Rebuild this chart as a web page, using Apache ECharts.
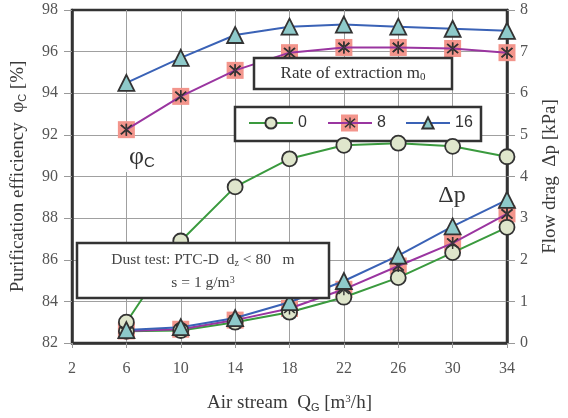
<!DOCTYPE html>
<html><head><meta charset="utf-8">
<script src="https://cdn.jsdelivr.net/npm/echarts@6/dist/echarts.min.js"></script>
<style>html,body{margin:0;padding:0;background:#fff}#c{width:568px;height:418px}</style>
</head><body><div id="c"></div>
<script>
// ---- data ----
const airStream = [6, 10, 14, 18, 22, 26, 30, 34];
const phi0  = [83.0, 86.9, 89.5, 90.85, 91.5, 91.6, 91.45, 90.95];
const phi8  = [92.25, 93.85, 95.1, 95.95, 96.2, 96.2, 96.15, 95.95];
const phi16 = [94.5, 95.7, 96.8, 97.2, 97.3, 97.2, 97.1, 97.0];
const dp0  = [0.28, 0.30, 0.50, 0.74, 1.10, 1.57, 2.17, 2.78];
const dp8  = [0.29, 0.33, 0.55, 0.83, 1.29, 1.85, 2.40, 3.10];
const dp16 = [0.31, 0.38, 0.60, 0.98, 1.49, 2.10, 2.80, 3.44];
const xTickLabels = [2, 6, 10, 14, 18, 22, 26, 30, 34];
const leftTickLabels = [82, 84, 86, 88, 90, 92, 94, 96, 98];
const rightTickLabels = [0, 1, 2, 3, 4, 5, 6, 7, 8];
const seriesNames = ['0', '8', '16'];

// ---- styles ----
const SERIF = 'Liberation Serif';
const SANS = 'Liberation Sans';
const GREEN = '#3a9a3e', PURPLE = '#9a35a0', BLUE = '#3a62b6';
const CIRCLE_FILL = '#dfe6cc', TRI_FILL = '#8ecaca', PINK = '#f3958c';
const DARK = '#333';
const ASTERISK = 'path://M9,0 L11,0 L11,20 L9,20 Z M1.5,3.2 L3.2,1.5 L18.5,16.8 L16.8,18.5 Z M18.5,3.2 L16.8,1.5 L1.5,16.8 L3.2,18.5 Z';

const pts = arr => airStream.map((x, i) => [x, arr[i]]);

function lineSeries(name, data, yIdx, color, symbol, size, fill) {
  return {
    name, type: 'line', yAxisIndex: yIdx, data: pts(data),
    symbol, symbolSize: size, showSymbol: true,
    lineStyle: { color, width: 2 },
    itemStyle: { color: fill, borderColor: DARK, borderWidth: symbol === ASTERISK ? 0 : 1.8 },
    emphasis: { disabled: true }, animation: false
  };
}
function scatter(name, data, yIdx, symbol, size, color) {
  return { name, type: 'scatter', yAxisIndex: yIdx, data: pts(data), symbol, symbolSize: size,
    itemStyle: { color, opacity: 1 }, emphasis: { disabled: true }, animation: false };
}

const axisNameRich = {
  a: { fontFamily: SERIF, fontSize: 19, color: '#3a3a3a' },
  s: { fontFamily: SANS, fontSize: 11, color: '#3a3a3a', verticalAlign: 'bottom', padding: [6, 0, 0, 0] },
  u: { fontFamily: SERIF, fontSize: 11, color: '#3a3a3a', verticalAlign: 'top', padding: [0, 0, 6, 0] }
};

const legendBase = {
  orient: 'horizontal', top: 115, itemWidth: 44, itemHeight: 14, itemGap: 0, padding: 0,
  textStyle: { fontFamily: SANS, fontSize: 16, color: DARK },
  selectedMode: false, z: 4
};

const chart = echarts.init(document.getElementById('c'));
chart.setOption({
  animation: false,
  backgroundColor: '#fff',
  grid: { left: 72, right: 51, top: 10, bottom: 72, show: true, borderColor: DARK, borderWidth: 2.5, backgroundColor: 'transparent' },
  xAxis: {
    type: 'value', min: xTickLabels[0], max: xTickLabels[xTickLabels.length - 1], interval: 4,
    axisLine: { show: true, lineStyle: { color: DARK, width: 2.5 } },
    axisTick: { show: true, length: 5, lineStyle: { color: '#999' } },
    axisLabel: { fontFamily: SERIF, fontSize: 16, color: '#555', margin: 18 },
    splitLine: { show: true, showMinLine: false, showMaxLine: false, lineStyle: { color: '#a0a0a0', width: 1 } },
    name: '{a|Air stream  Q}{s|G}{a| [m}{u|3}{a|/h]}', nameLocation: 'middle', nameGap: 51,
    nameTextStyle: { rich: axisNameRich }
  },
  yAxis: [{
    type: 'value', min: leftTickLabels[0], max: leftTickLabels[leftTickLabels.length - 1], interval: 2,
    axisLine: { show: true, lineStyle: { color: DARK, width: 2.5 } },
    axisTick: { show: true, length: 8, lineStyle: { color: '#999' } },
    axisLabel: { fontFamily: SERIF, fontSize: 16, color: '#555', margin: 14 },
    splitLine: { show: true, showMinLine: false, showMaxLine: false, lineStyle: { color: '#a0a0a0', width: 1 } },
    name: '{a|Purification efficiency  φ}{s|C}{a| [%]}', nameLocation: 'middle', nameGap: 44,
    nameTextStyle: { rich: axisNameRich }
  }, {
    type: 'value', position: 'right', min: rightTickLabels[0], max: rightTickLabels[rightTickLabels.length - 1], interval: 1,
    axisLine: { show: true, lineStyle: { color: DARK, width: 2.5 } },
    axisTick: { show: true, length: 8, lineStyle: { color: '#999' } },
    axisLabel: { fontFamily: SERIF, fontSize: 16, color: '#555', margin: 13 },
    splitLine: { show: false },
    name: '{a|Flow drag  Δp [kPa]}', nameLocation: 'middle', nameGap: 34,
    nameTextStyle: { rich: axisNameRich }
  }],
  legend: [
    Object.assign({}, legendBase, { left: 248, data: [seriesNames[0]] }),
    Object.assign({}, legendBase, { left: 327, data: [seriesNames[1]] }),
    Object.assign({}, legendBase, { left: 405, data: [seriesNames[2]] })
  ],
  series: [
    lineSeries(seriesNames[0], dp0, 1, GREEN, 'circle', 15, CIRCLE_FILL),
    lineSeries(seriesNames[0], phi0, 0, GREEN, 'circle', 15, CIRCLE_FILL),
    lineSeries(seriesNames[1], dp8, 1, PURPLE, ASTERISK, 12, DARK),
    lineSeries(seriesNames[1], phi8, 0, PURPLE, ASTERISK, 12, DARK),
    scatter('8-square', dp8, 1, 'rect', 17, PINK),
    scatter('8-square', phi8, 0, 'rect', 17, PINK),
    scatter('8-star', dp8, 1, ASTERISK, 12, DARK),
    scatter('8-star', phi8, 0, ASTERISK, 12, DARK),
    lineSeries(seriesNames[2], dp16, 1, BLUE, 'triangle', 16, TRI_FILL),
    lineSeries(seriesNames[2], phi16, 0, BLUE, 'triangle', 16, TRI_FILL)
  ],
  graphic: [
    // white patches behind the curve labels
    { type: 'rect', z: 1, shape: { x: 113, y: 137, width: 59, height: 35 }, style: { fill: '#fff' } },
    { type: 'text', z: 5, x: 142, y: 157, style: { text: '{p|φ}{c|C}', align: 'center', verticalAlign: 'middle',
      rich: { p: { fontFamily: SERIF, fontSize: 26, fill: '#333' }, c: { fontFamily: SANS, fontSize: 15, fill: '#333', verticalAlign: 'bottom', padding: [8, 0, 0, 0] } } } },
    { type: 'rect', z: 1, shape: { x: 427, y: 177, width: 60, height: 31 }, style: { fill: '#fff' } },
    { type: 'text', z: 5, x: 452, y: 196, style: { text: 'Δp', align: 'center', verticalAlign: 'middle', fontFamily: SERIF, fontSize: 24, fill: '#333' } },
    // legend box
    { type: 'rect', z: 3, shape: { x: 235, y: 107, width: 246, height: 34 }, style: { fill: '#fff', stroke: DARK, lineWidth: 2.5 } },
    { type: 'rect', z: 3, z2: 10, shape: { x: 341, y: 114.5, width: 17, height: 17 }, style: { fill: PINK } },
    // rate of extraction box
    { type: 'rect', z: 5, shape: { x: 254, y: 58, width: 198, height: 31 }, style: { fill: '#fff', stroke: DARK, lineWidth: 2.5 } },
    { type: 'text', z: 6, x: 353, y: 74, style: { text: '{a|Rate of extraction m}{s|0}', align: 'center', verticalAlign: 'middle',
      rich: { a: { fontFamily: SERIF, fontSize: 17, fill: '#333' }, s: { fontFamily: SERIF, fontSize: 11, fill: '#333', verticalAlign: 'bottom', padding: [7, 0, 0, 0] } } } },
    // dust test box
    { type: 'rect', z: 5, shape: { x: 77, y: 243, width: 252, height: 55 }, style: { fill: '#fff', stroke: DARK, lineWidth: 2.5 } },
    { type: 'text', z: 6, x: 203, y: 260, style: { text: '{a|Dust test: PTC-D  d}{s|z}{a| < 80   m}', align: 'center', verticalAlign: 'middle',
      rich: { a: { fontFamily: SERIF, fontSize: 15.5, fill: '#444' }, s: { fontFamily: SERIF, fontSize: 10, fill: '#444', verticalAlign: 'bottom', padding: [6, 0, 0, 0] } } } },
    { type: 'text', z: 6, x: 203, y: 283, style: { text: '{a|s = 1 g/m}{u|3}', align: 'center', verticalAlign: 'middle',
      rich: { a: { fontFamily: SERIF, fontSize: 15.5, fill: '#444' }, u: { fontFamily: SERIF, fontSize: 10, fill: '#444', verticalAlign: 'top', padding: [0, 0, 6, 0] } } } }
  ]
});
</script></body></html>
